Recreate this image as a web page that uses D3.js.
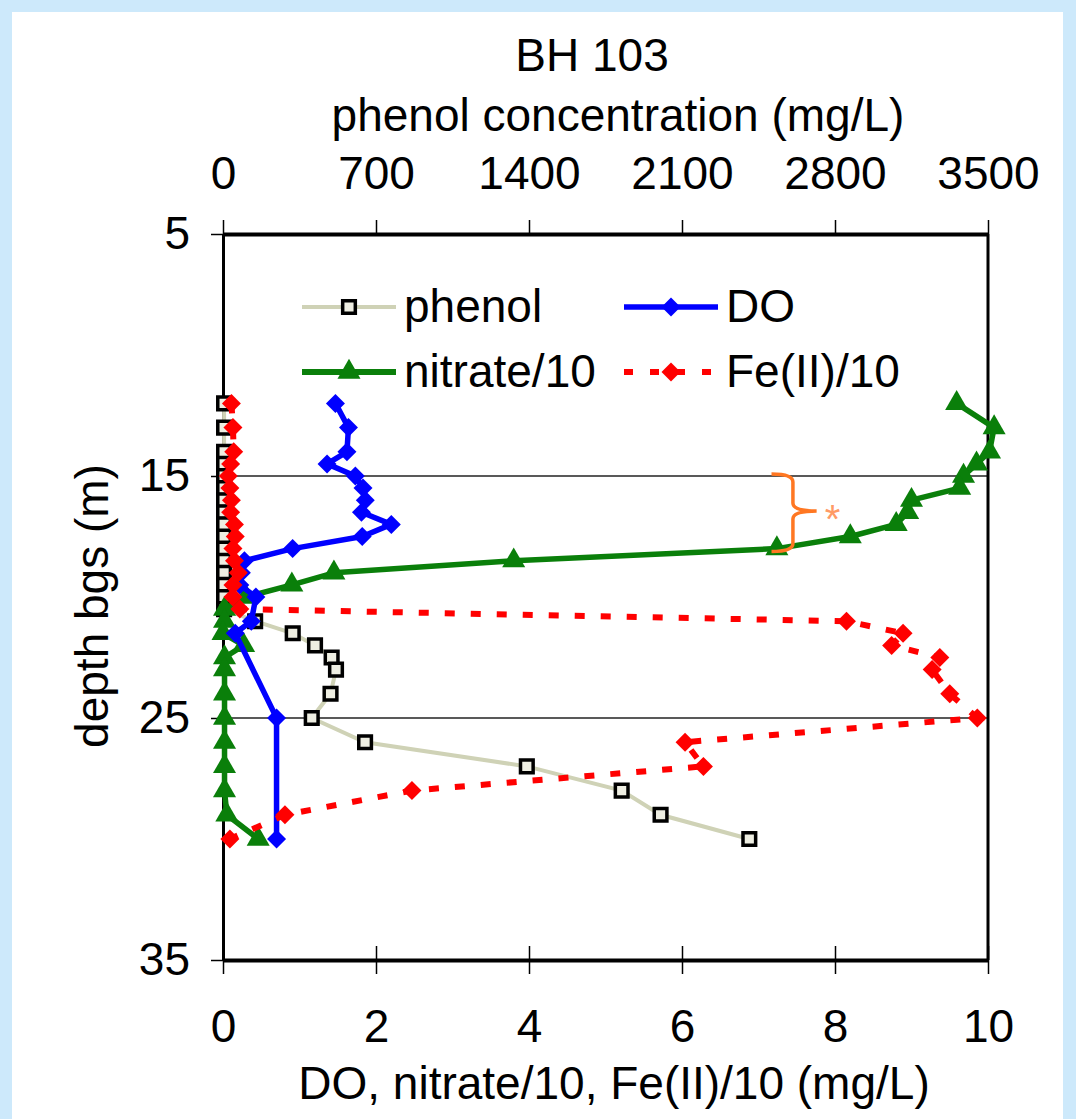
<!DOCTYPE html>
<html>
<head>
<meta charset="utf-8">
<script src="https://cdn.jsdelivr.net/npm/d3@7"></script>
<style>
  body { margin: 0; background: #cde9fb; }
  svg { display: block; }
</style>
</head>
<body>
<div id="chart"></div>
<script>
// depth (m) and values
var depthPhenol = [12, 13, 14, 14.5, 15, 15.5, 16, 16.5, 17, 17.5, 18, 18.5, 19, 19.5, 20, 20.5, 21, 21.5, 22, 22.5, 23, 24, 25, 26, 27, 28, 29, 30];
var phenolValues = [5, 5, 5, 5, 5, 5, 5, 5, 5, 5, 5, 5, 5, 5, 5, 5, 147, 319, 421, 497, 517, 492, 406, 650, 1390, 1824, 2002, 2408];

var depthDO = [12, 13, 14, 14.5, 15, 15.5, 16, 16.5, 17, 17.5, 18, 18.5, 19, 19.5, 20, 21, 21.5, 25, 30];
var doValues = [1.47, 1.64, 1.62, 1.36, 1.73, 1.83, 1.86, 1.81, 2.2, 1.82, 0.91, 0.28, 0.24, 0.22, 0.43, 0.37, 0.16, 0.7, 0.7];

var depthNitrate = [12, 13, 14, 14.5, 15, 15.5, 16, 16.5, 17, 17.5, 18, 18.5, 19, 19.5, 20, 20.5, 21, 21.5, 22, 22.5, 23, 24, 25, 26, 27, 28, 29, 30];
var nitrateValues = [9.59, 10.08, 10.02, 9.85, 9.68, 9.63, 9.0, 8.95, 8.8, 8.2, 7.24, 3.8, 1.45, 0.9, 0.3, 0.02, 0.02, 0.0, 0.27, 0.02, 0.02, 0.02, 0.02, 0.02, 0.02, 0.02, 0.05, 0.46];

var depthFe = [12, 13, 14, 14.5, 15, 15.5, 16, 16.5, 17, 17.5, 18, 18.5, 19, 19.5, 20, 20.5, 21, 21.5, 22, 22.5, 23, 24, 25, 26, 27, 28, 29, 30];
var feValues = [0.11, 0.13, 0.14, 0.1, 0.07, 0.09, 0.11, 0.1, 0.15, 0.16, 0.13, 0.15, 0.2, 0.13, 0.13, 0.22, 8.15, 8.89, 8.74, 9.37, 9.27, 9.5, 9.86, 6.04, 6.28, 2.47, 0.81, 0.09];

var depthTicks = [5, 15, 25, 35];
var gridDepths = [15, 25];
var bottomTicks = [0, 2, 4, 6, 8, 10];
var phenolTicks = [0, 700, 1400, 2100, 2800, 3500];

// bracket annotation (x in mg/L, depth in m)
var braceX = [7.17, 7.45, 7.76];
var braceDepth = [14.92, 16.45, 18.12];

var fontFamily = "'Liberation Sans', Arial, sans-serif";
var fontSize = 46;

var width = 1076, height = 1119;

var svg = d3.select("#chart")
    .append("svg")
    .attr("width", width)
    .attr("height", height);

svg.append("rect")
    .attr("x", 12)
    .attr("y", 12)
    .attr("width", 1051)
    .attr("height", height)
    .attr("fill", "#ffffff");

var x = d3.scaleLinear().domain([0, 10]).range([223, 988]);
var xPhenol = d3.scaleLinear().domain([0, 3500]).range([223, 988]);
var y = d3.scaleLinear().domain([5, 35]).range([234, 960]);

// grid lines
svg.selectAll(".grid")
    .data(gridDepths)
    .enter()
    .append("line")
    .attr("class", "grid")
    .attr("x1", x(0))
    .attr("x2", x(10))
    .attr("y1", function (d) { return y(d); })
    .attr("y2", function (d) { return y(d); })
    .attr("stroke", "#222")
    .attr("stroke-width", 1.5);

// right frame
svg.append("line")
    .attr("x1", x(10))
    .attr("x2", x(10))
    .attr("y1", y(5))
    .attr("y2", y(35))
    .attr("stroke", "#000")
    .attr("stroke-width", 3);

// axes
var yAxis = d3.axisLeft(y)
    .tickValues(depthTicks)
    .tickSize(12)
    .tickSizeOuter(0)
    .tickPadding(21);

var gy = svg.append("g")
    .attr("transform", "translate(" + x(0) + ",0)")
    .call(yAxis);
gy.selectAll(".tick line").attr("x1", 6).attr("stroke-width", 1.5);

var xAxis = d3.axisBottom(x)
    .tickValues(bottomTicks)
    .tickSize(14)
    .tickSizeOuter(0)
    .tickPadding(35);

var gx = svg.append("g")
    .attr("transform", "translate(0," + y(35) + ")")
    .call(xAxis);
gx.selectAll(".tick line").attr("y1", -14).attr("stroke-width", 1.5);

var topAxis = d3.axisTop(xPhenol)
    .tickValues(phenolTicks)
    .tickFormat(d3.format("d"))
    .tickSize(14)
    .tickSizeOuter(0)
    .tickPadding(31);

var gt = svg.append("g")
    .attr("transform", "translate(0," + y(5) + ")")
    .call(topAxis);
gt.selectAll(".tick line").attr("stroke-width", 1.5);

[gy, gx, gt].forEach(function (g) {
    g.attr("font-family", fontFamily)
        .attr("font-size", fontSize);
    g.selectAll("text").attr("fill", "#000");
    g.selectAll(".tick line").attr("stroke", "#000");
});
gy.select(".domain").attr("stroke-width", 3);
gx.select(".domain").attr("stroke-width", 4);
gt.select(".domain").attr("stroke-width", 4);

// titles
svg.append("text")
    .attr("x", 592)
    .attr("y", 71)
    .attr("text-anchor", "middle")
    .attr("font-family", fontFamily)
    .attr("font-size", fontSize)
    .text("BH 103");

svg.append("text")
    .attr("x", 618)
    .attr("y", 131)
    .attr("text-anchor", "middle")
    .attr("font-family", fontFamily)
    .attr("font-size", fontSize)
    .text("phenol concentration (mg/L)");

svg.append("text")
    .attr("x", 614)
    .attr("y", 1099)
    .attr("text-anchor", "middle")
    .attr("font-family", fontFamily)
    .attr("font-size", fontSize)
    .text("DO, nitrate/10, Fe(II)/10 (mg/L)");

svg.append("text")
    .attr("transform", "translate(108,606) rotate(-90)")
    .attr("text-anchor", "middle")
    .attr("font-family", fontFamily)
    .attr("font-size", fontSize)
    .text("depth bgs (m)");

// series
function pairs(depths, values, scale) {
    return depths.map(function (d, i) { return [scale(values[i]), y(d)]; });
}

var line = d3.line();
var diamond = d3.symbol().type(d3.symbolSquare).size(180);
var square = d3.symbol().type(d3.symbolSquare).size(160);
var triangle = d3.symbol().type(d3.symbolTriangle).size(230);

var phenolPts = pairs(depthPhenol, phenolValues, xPhenol);
var nitratePts = pairs(depthNitrate, nitrateValues, x);
var doPts = pairs(depthDO, doValues, x);
var fePts = pairs(depthFe, feValues, x);

svg.append("path")
    .attr("d", line(phenolPts))
    .attr("fill", "none")
    .attr("stroke", "#cfd2b6")
    .attr("stroke-width", 4);

svg.selectAll(".phenol")
    .data(phenolPts)
    .enter()
    .append("path")
    .attr("class", "phenol")
    .attr("d", square)
    .attr("transform", function (d) { return "translate(" + d[0] + "," + d[1] + ")"; })
    .attr("fill", "#eeeee2")
    .attr("stroke", "#000")
    .attr("stroke-width", 3.5);

svg.append("path")
    .attr("d", line(nitratePts))
    .attr("fill", "none")
    .attr("stroke", "#0a7f0a")
    .attr("stroke-width", 5.5)
    .attr("stroke-linejoin", "round");

svg.selectAll(".nitrate")
    .data(nitratePts)
    .enter()
    .append("path")
    .attr("class", "nitrate")
    .attr("d", triangle)
    .attr("transform", function (d) { return "translate(" + d[0] + "," + d[1] + ")"; })
    .attr("fill", "#0a7f0a");

svg.append("path")
    .attr("d", line(doPts))
    .attr("fill", "none")
    .attr("stroke", "#0000ff")
    .attr("stroke-width", 5.5)
    .attr("stroke-linejoin", "round");

svg.selectAll(".do")
    .data(doPts)
    .enter()
    .append("path")
    .attr("class", "do")
    .attr("d", diamond)
    .attr("transform", function (d) { return "translate(" + d[0] + "," + d[1] + ") rotate(45)"; })
    .attr("fill", "#0000ff");

svg.append("path")
    .attr("d", line(fePts))
    .attr("fill", "none")
    .attr("stroke", "#ff0000")
    .attr("stroke-width", 6)
    .attr("stroke-dasharray", "10,16");

svg.selectAll(".fe")
    .data(fePts)
    .enter()
    .append("path")
    .attr("class", "fe")
    .attr("d", diamond)
    .attr("transform", function (d) { return "translate(" + d[0] + "," + d[1] + ") rotate(45)"; })
    .attr("fill", "#ff0000");

// bracket
var bx0 = x(braceX[0]), bx1 = x(braceX[1]), bTip = x(braceX[2]);
var bTop = y(braceDepth[0]), bMid = y(braceDepth[1]), bBot = y(braceDepth[2]);
svg.append("path")
    .attr("d", "M" + bx0 + "," + bTop +
        " Q" + bx1 + "," + bTop + " " + bx1 + "," + (bTop + 8) +
        " L" + bx1 + "," + (bMid - 8) +
        " Q" + bx1 + "," + bMid + " " + bTip + "," + bMid +
        " Q" + bx1 + "," + bMid + " " + bx1 + "," + (bMid + 8) +
        " L" + bx1 + "," + (bBot - 8) +
        " Q" + bx1 + "," + bBot + " " + bx0 + "," + bBot)
    .attr("fill", "none")
    .attr("stroke", "#ff7722")
    .attr("stroke-width", 3.5);

svg.append("text")
    .attr("x", bTip + 16)
    .attr("y", bMid + 22)
    .attr("text-anchor", "middle")
    .attr("font-family", fontFamily)
    .attr("font-size", 40)
    .attr("fill", "#ff9a66")
    .text("*");

// legend
var legendItems = [
    { name: "phenol", lx: 302, ly: 307, color: "#cfd2b6", width: 4, dash: null, marker: "square" },
    { name: "DO", lx: 624, ly: 307, color: "#0000ff", width: 5.5, dash: null, marker: "diamond" },
    { name: "nitrate/10", lx: 302, ly: 372, color: "#0a7f0a", width: 6, dash: null, marker: "triangle" },
    { name: "Fe(II)/10", lx: 624, ly: 372, color: "#ff0000", width: 6, dash: "9,17", marker: "fediamond" }
];

var legend = svg.selectAll(".legend")
    .data(legendItems)
    .enter()
    .append("g")
    .attr("class", "legend")
    .attr("transform", function (d) { return "translate(" + d.lx + "," + d.ly + ")"; });

legend.append("line")
    .attr("x1", 0)
    .attr("x2", 94)
    .attr("stroke", function (d) { return d.color; })
    .attr("stroke-width", function (d) { return d.width; })
    .attr("stroke-dasharray", function (d) { return d.dash; });

legend.append("path")
    .attr("d", function (d) {
        if (d.marker === "triangle") return triangle();
        if (d.marker === "square") return square();
        return diamond();
    })
    .attr("transform", function (d) {
        return "translate(47,0)" + (d.marker === "diamond" || d.marker === "fediamond" ? " rotate(45)" : "");
    })
    .attr("fill", function (d) {
        if (d.marker === "square") return "#eeeee2";
        return d.color;
    })
    .attr("stroke", function (d) { return d.marker === "square" ? "#000" : "none"; })
    .attr("stroke-width", 3.5);

legend.append("text")
    .attr("x", 102)
    .attr("y", 15)
    .attr("font-family", fontFamily)
    .attr("font-size", fontSize)
    .text(function (d) { return d.name; });
</script>
</body>
</html>
